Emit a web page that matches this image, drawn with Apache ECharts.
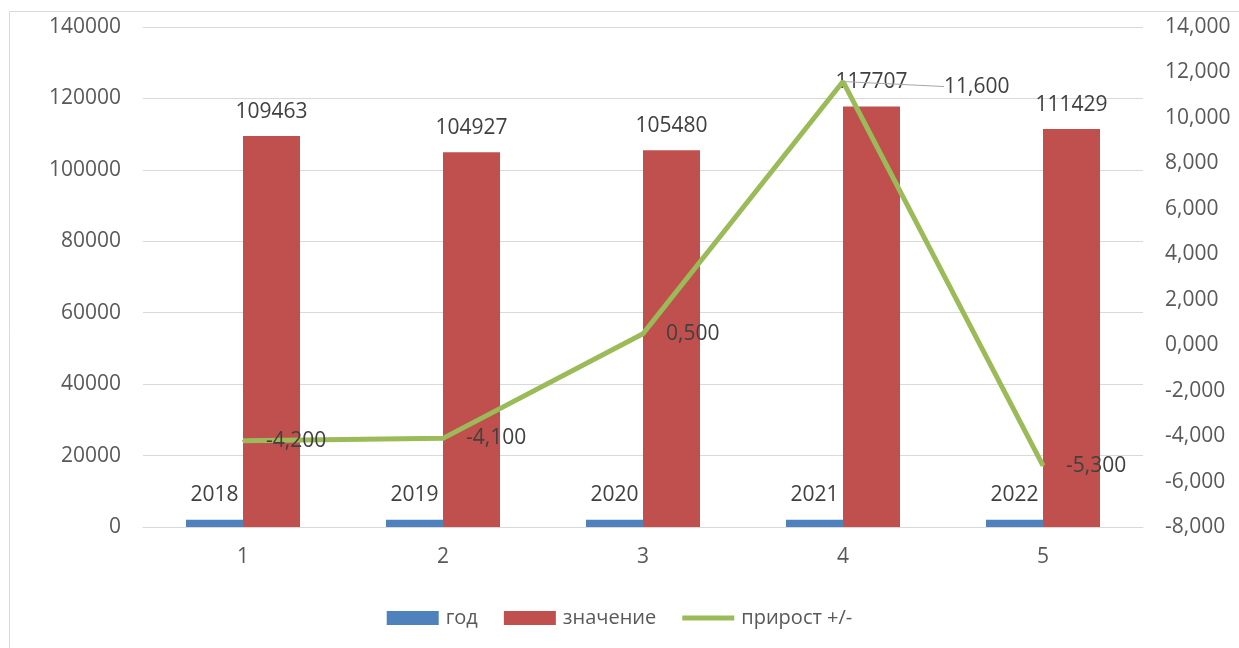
<!DOCTYPE html>
<html>
<head>
<meta charset="utf-8">
<script src="https://cdn.jsdelivr.net/npm/echarts@6/dist/echarts.min.js"></script>
<style>
html,body{margin:0;padding:0;background:#fff;}
#chart{width:1239px;height:648px;}
</style>
</head>
<body>
<div id="chart"></div>
<script>
const categories = ['1', '2', '3', '4', '5'];
const years = [2018, 2019, 2020, 2021, 2022];
const values = [109463, 104927, 105480, 117707, 111429];
const growth = [-4.2, -4.1, 0.5, 11.6, -5.3];
const seriesNames = ['год', 'значение', 'прирост +/-'];

const FONT = 'Open Sans';
const fmt3 = v => Number(v).toFixed(3).replace('.', ',');

const growthData = growth.map((v, i) => ({
  value: v,
  labelLine: { show: i === 3, lineStyle: { color: '#a6a6a6', width: 1 } }
}));

const chart = echarts.init(document.getElementById('chart'));
chart.setOption({
  animation: false,
  textStyle: { fontFamily: FONT },
  graphic: [{
    type: 'rect',
    shape: { x: 9.5, y: 11.5, width: 1300, height: 700 },
    style: { fill: 'none', stroke: '#d9d9d9', lineWidth: 1 },
    silent: true
  }],
  grid: { left: 143, right: 96, top: 27, bottom: 121 },
  legend: {
    bottom: 15,
    left: 'center',
    itemWidth: 52,
    itemHeight: 14,
    itemGap: 26,
    textStyle: { fontFamily: FONT, fontSize: 20, color: '#595959', padding: [0, 0, 0, 2] },
    data: [
      { name: seriesNames[0], icon: 'rect' },
      { name: seriesNames[1], icon: 'rect' },
      { name: seriesNames[2], icon: 'path://M0,0L0.01,0L0.01,0.01Z M0,4.5L52,4.5L52,9.5L0,9.5Z M0,13.99L0.01,13.99L0.01,14Z' }
    ]
  },
  xAxis: {
    type: 'category',
    data: categories,
    axisLine: { show: true, lineStyle: { color: '#d9d9d9', width: 1 } },
    axisTick: { show: false },
    axisLabel: { fontFamily: FONT, fontSize: 21, color: '#595959', margin: 20 }
  },
  yAxis: [{
    type: 'value',
    min: 0, max: 140000, interval: 20000,
    axisLine: { show: false },
    axisTick: { show: false },
    splitLine: { show: true, lineStyle: { color: '#d9d9d9', width: 1 } },
    axisLabel: { fontFamily: FONT, fontSize: 21, color: '#595959', margin: 22, formatter: v => String(v) }
  }, {
    type: 'value',
    min: -8, max: 14, interval: 2,
    axisLine: { show: false },
    axisTick: { show: false },
    splitLine: { show: false },
    axisLabel: { fontFamily: FONT, fontSize: 21, color: '#595959', margin: 22, formatter: fmt3 }
  }],
  series: [{
    name: seriesNames[0],
    type: 'bar',
    data: years,
    barWidth: 57,
    barGap: '0%',
    itemStyle: { color: '#4F81BD' },
    label: { show: true, position: 'top', distance: 14, fontFamily: FONT, fontSize: 21, color: '#404040' }
  }, {
    name: seriesNames[1],
    type: 'bar',
    data: values,
    barWidth: 57,
    barGap: '0%',
    itemStyle: { color: '#C0504D' },
    label: { show: true, position: 'top', distance: 14, fontFamily: FONT, fontSize: 21, color: '#404040' }
  }, {
    name: seriesNames[2],
    type: 'line',
    yAxisIndex: 1,
    data: growthData,
    symbol: 'circle',
    symbolSize: 2,
    itemStyle: { color: '#9BBB59' },
    lineStyle: { color: '#9BBB59', width: 5 },
    z: 5,
    label: {
      show: true, position: 'right', distance: 22,
      fontFamily: FONT, fontSize: 21, color: '#404040',
      formatter: p => fmt3(p.value)
    },
    labelLayout: p => p.dataIndex === 3 ? { dx: 78, dy: 5 } : {}
  }]
});
</script>
</body>
</html>
